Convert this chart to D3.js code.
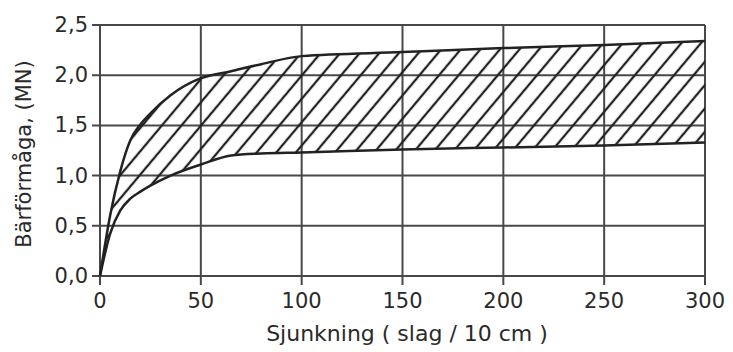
<!DOCTYPE html>
<html lang="sv">
<head>
  <meta charset="utf-8">
  <title>Bärförmåga</title>
  <script src="https://d3js.org/d3.v7.min.js"></script>
  <style>
    body { margin: 0; background: #fff; }
    text { font-family: "DejaVu Sans", sans-serif; fill: #2a2a2a; }
  </style>
</head>
<body>
  <div id="chart"></div>
  <script>
    // data
    var sjunkning = [0, 5, 10, 15, 20, 25, 35, 50, 65, 80, 100, 150, 200, 250, 300];
    var upper = [0, 0.60, 1.04, 1.35, 1.51, 1.62, 1.80, 1.97, 2.04, 2.11, 2.19, 2.23, 2.27, 2.30, 2.34];
    var lower = [0, 0.42, 0.65, 0.77, 0.84, 0.90, 1.00, 1.11, 1.20, 1.22, 1.23, 1.26, 1.28, 1.30, 1.33];
    var xTicks = [0, 50, 100, 150, 200, 250, 300];
    var yTicks = [0, 0.5, 1.0, 1.5, 2.0, 2.5];

    var margin = { top: 25, right: 28, bottom: 76, left: 100 },
      width = 733 - margin.left - margin.right,
      height = 352 - margin.top - margin.bottom;

    var svg = d3.select("#chart").append("svg")
      .attr("width", 733).attr("height", 352);

    // diagonal hatching for the band
    var pat = svg.append("defs").append("pattern")
      .attr("id", "hatch")
      .attr("patternUnits", "userSpaceOnUse")
      .attr("width", 15).attr("height", 15)
      .attr("patternTransform", "rotate(40)");
    pat.append("line")
      .attr("x1", 7).attr("y1", 0).attr("x2", 7).attr("y2", 15)
      .attr("stroke", "#222").attr("stroke-width", 2.3);

    var g = svg.append("g")
      .attr("transform", "translate(" + margin.left + "," + margin.top + ")");

    var x = d3.scaleLinear().domain([0, 300]).range([0, width]);
    var y = d3.scaleLinear().domain([0, 2.5]).range([height, 0]);

    var fmt = function (d) { return d3.format(".1f")(d).replace(".", ","); };

    // grid + ticks
    g.append("g").selectAll("line").data(yTicks).enter().append("line")
      .attr("x1", -8).attr("x2", width)
      .attr("y1", d => y(d)).attr("y2", d => y(d))
      .attr("stroke", "#484848").attr("stroke-width", 2);
    g.append("g").selectAll("line").data(xTicks).enter().append("line")
      .attr("x1", d => x(d)).attr("x2", d => x(d))
      .attr("y1", 0).attr("y2", height + 9)
      .attr("stroke", "#484848").attr("stroke-width", 2);

    // band
    var rows = sjunkning.map((s, i) => ({ s: s, lo: lower[i], hi: upper[i] }));
    var area = d3.area()
      .x(d => x(d.s)).y0(d => y(d.lo)).y1(d => y(d.hi))
      .curve(d3.curveMonotoneX);
    g.append("path").datum(rows)
      .attr("d", area)
      .attr("fill", "url(#hatch)");
    var lineHi = d3.line().x(d => x(d.s)).y(d => y(d.hi)).curve(d3.curveMonotoneX);
    var lineLo = d3.line().x(d => x(d.s)).y(d => y(d.lo)).curve(d3.curveMonotoneX);
    [lineHi, lineLo].forEach(function (fn) {
      g.append("path").datum(rows)
        .attr("d", fn)
        .attr("fill", "none")
        .attr("stroke", "#222")
        .attr("stroke-width", 2.5);
    });

    // tick labels
    g.append("g").selectAll("text").data(yTicks).enter().append("text")
      .attr("x", -12).attr("y", d => y(d) + 7)
      .attr("text-anchor", "end")
      .style("font-size", "21px")
      .text(fmt);
    g.append("g").selectAll("text").data(xTicks).enter().append("text")
      .attr("x", d => x(d)).attr("y", height + 32)
      .attr("text-anchor", "middle")
      .style("font-size", "21px")
      .text(d => d);

    // axis titles
    svg.append("text")
      .attr("x", 407).attr("y", 341)
      .attr("text-anchor", "middle")
      .style("font-size", "22px")
      .text("Sjunkning ( slag / 10 cm )");
    svg.append("text")
      .attr("transform", "translate(31,154) rotate(-90)")
      .attr("text-anchor", "middle")
      .style("font-size", "21px")
      .text("Bärförmåga, (MN)");
  </script>
</body>
</html>
